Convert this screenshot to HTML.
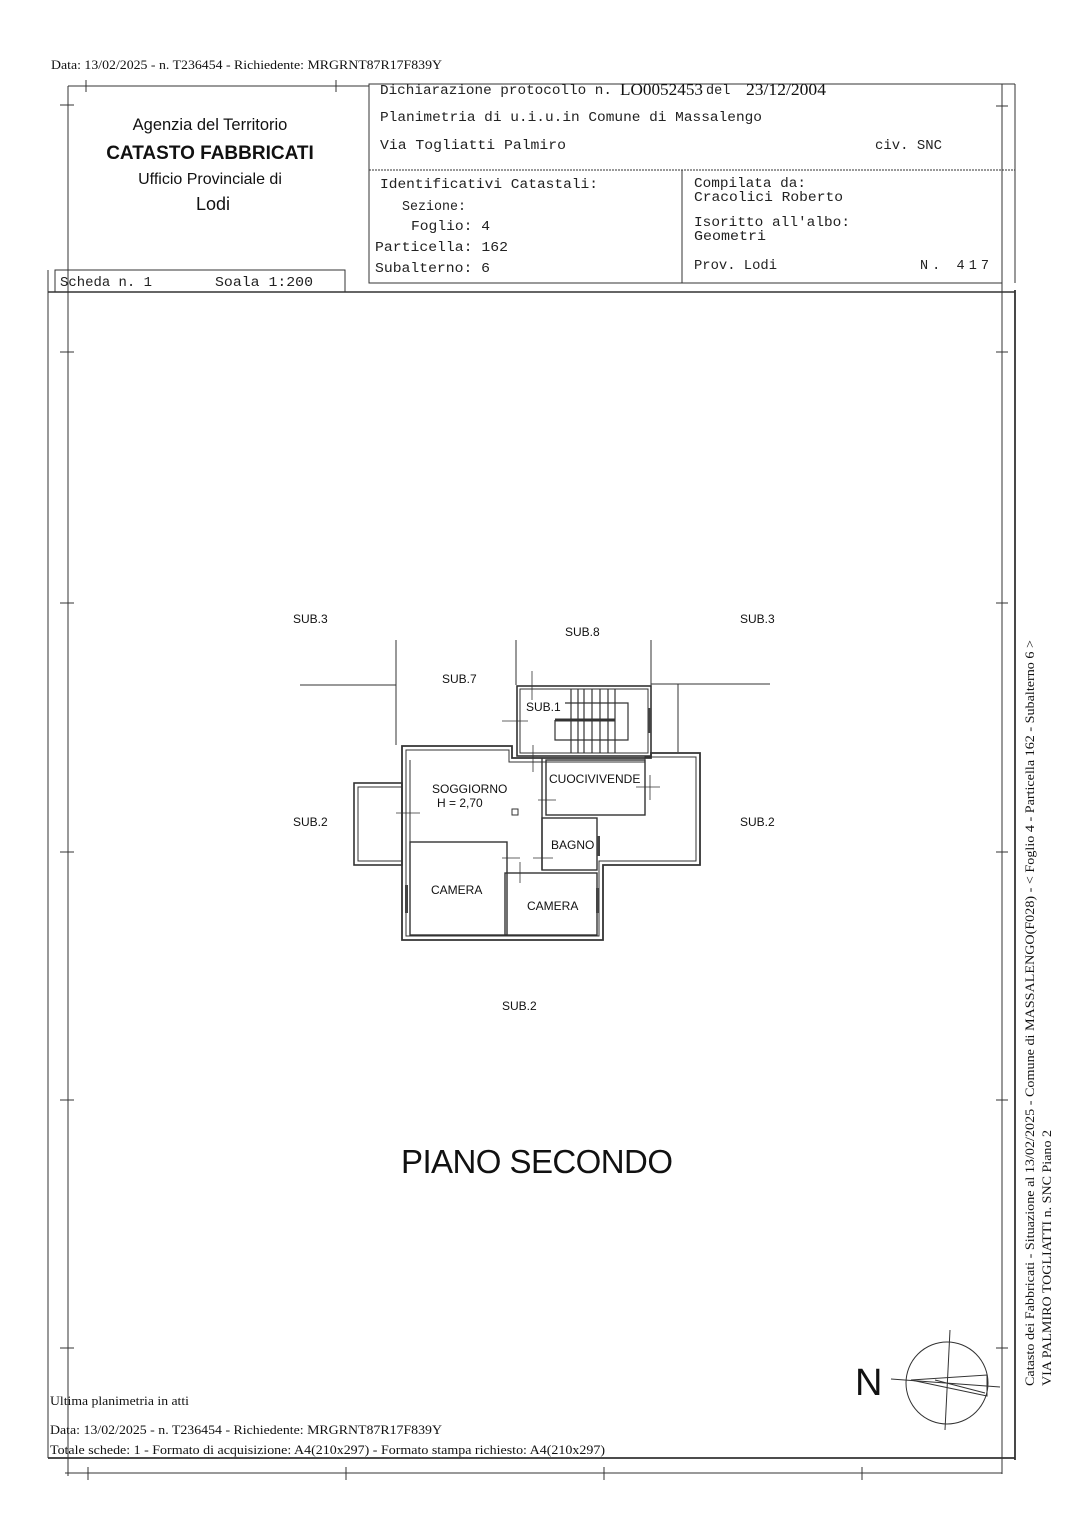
<!DOCTYPE html>
<html><head><meta charset="utf-8"><style>
html,body{margin:0;padding:0;background:#fff;}
svg{display:block}
.m{font-family:"Liberation Mono",monospace;font-size:13.5px;fill:#222}
.s{font-family:"Liberation Sans",sans-serif;fill:#111}
.t{font-family:"Liberation Serif",serif;fill:#111}
</style></head><body>
<svg width="1086" height="1536" viewBox="0 0 1086 1536" xmlns="http://www.w3.org/2000/svg">
<g stroke="#333" fill="none" stroke-width="1">
<line x1="68" y1="86" x2="369" y2="86"/>
<line x1="86" y1="80" x2="86" y2="92"/><line x1="336" y1="80" x2="336" y2="92"/>
<line x1="60" y1="105" x2="74" y2="105"/>
<rect x="369" y="84" width="633" height="199"/>
<line x1="369" y1="170" x2="1015" y2="170" stroke-dasharray="2 1"/>
<line x1="682" y1="170" x2="682" y2="283"/>
<line x1="1002" y1="84" x2="1015" y2="84"/>
<line x1="996" y1="106" x2="1008" y2="106"/>
<line x1="1015" y1="84" x2="1015" y2="283"/>
<rect x="55" y="270" width="290" height="22"/>
<line x1="48" y1="270" x2="48" y2="1458"/>
<line x1="68" y1="86" x2="68" y2="1476"/>
<line x1="48" y1="292" x2="1015" y2="292" stroke-width="1.5"/>
<line x1="1002" y1="283" x2="1002" y2="1474"/>
<line x1="1015" y1="290" x2="1015" y2="1460" stroke-width="1.8"/>
<line x1="48" y1="1458" x2="1015" y2="1458" stroke-width="1.8"/>
<line x1="65" y1="1473" x2="1002" y2="1473"/>
<line x1="88" y1="1467" x2="88" y2="1480"/><line x1="346" y1="1467" x2="346" y2="1480"/><line x1="604" y1="1467" x2="604" y2="1480"/><line x1="862" y1="1467" x2="862" y2="1480"/>
<line x1="60" y1="352" x2="74" y2="352"/><line x1="60" y1="603" x2="74" y2="603"/><line x1="60" y1="852" x2="74" y2="852"/><line x1="60" y1="1100" x2="74" y2="1100"/><line x1="60" y1="1348" x2="74" y2="1348"/>
<line x1="996" y1="352" x2="1008" y2="352"/><line x1="996" y1="603" x2="1008" y2="603"/><line x1="996" y1="852" x2="1008" y2="852"/><line x1="996" y1="1100" x2="1008" y2="1100"/><line x1="996" y1="1348" x2="1008" y2="1348"/>
<line x1="300" y1="685" x2="396" y2="685"/>
<line x1="396" y1="640" x2="396" y2="745"/>
<line x1="516" y1="640" x2="516" y2="685"/>
<line x1="651" y1="640" x2="651" y2="755"/>
<line x1="651" y1="684" x2="770" y2="684"/>
<line x1="678" y1="684" x2="678" y2="752"/>
<rect x="517" y="686" width="134" height="70" stroke-width="1.6"/>
<rect x="520" y="689" width="128" height="64"/>
<g stroke-width="1.2">
<line x1="571" y1="689" x2="571" y2="753"/><line x1="578" y1="689" x2="578" y2="753"/><line x1="584" y1="689" x2="584" y2="753"/><line x1="592" y1="689" x2="592" y2="753"/><line x1="600" y1="689" x2="600" y2="753"/><line x1="608" y1="689" x2="608" y2="753"/><line x1="615" y1="689" x2="615" y2="753"/>
<line x1="555" y1="720" x2="615" y2="720" stroke-width="3"/>
<polyline points="565,703 628,703 628,740 555,740 555,720"/>
</g>
<polygon points="402,746 512,746 512,758 651,758 651,753 700,753 700,865 603,865 603,940 402,940" stroke-width="1.8"/>
<polygon points="406,750 509,750 509,762 645,762 645,757 696,757 696,861 599,861 599,936 406,936"/>
<rect x="354" y="783" width="48" height="82" stroke-width="1.6"/>
<rect x="358" y="787" width="44" height="74"/>
<rect x="546" y="760" width="99" height="55" stroke-width="1.4"/>
<line x1="542" y1="758" x2="542" y2="870" stroke-width="1.4"/>
<polyline points="410,760 410,842 507,842 507,935"/>
<rect x="542" y="818" width="55" height="52" stroke-width="1.4"/>
<rect x="505" y="873" width="92" height="62" stroke-width="1.4"/>
<rect x="410" y="842" width="97" height="93" stroke-width="1.4"/>
<rect x="512" y="809" width="6" height="6"/>
<g stroke-width="0.8">
<line x1="532" y1="671" x2="532" y2="700"/><line x1="502" y1="721" x2="528" y2="721"/>
<line x1="533" y1="745" x2="533" y2="772"/><line x1="538" y1="800" x2="556" y2="800"/>
<line x1="396" y1="813" x2="420" y2="813"/>
<line x1="502" y1="858" x2="520" y2="858"/><line x1="533" y1="858" x2="553" y2="858"/>
<line x1="520" y1="862" x2="520" y2="883"/>
<line x1="636" y1="787" x2="660" y2="787"/><line x1="650" y1="775" x2="650" y2="800"/>
</g>
<g fill="#444" stroke="none">
<rect x="405" y="885" width="3" height="28"/><rect x="596" y="888" width="3" height="25"/><rect x="648" y="708" width="3" height="25"/><rect x="597" y="836" width="3" height="20"/>
</g>
<circle cx="947" cy="1383" r="41"/>
<line x1="950" y1="1330" x2="945" y2="1430"/>
<line x1="891" y1="1379" x2="1000" y2="1387"/>
<polygon points="911,1380 987,1375 987,1396"/>
<line x1="935" y1="1380" x2="985" y2="1393"/>
</g>
<text class="t" x="51" y="69" font-size="13" textLength="391" lengthAdjust="spacingAndGlyphs">Data: 13/02/2025 - n. T236454 - Richiedente: MRGRNT87R17F839Y</text>
<text class="s" x="210" y="130" font-size="16.5" text-anchor="middle">Agenzia del Territorio</text>
<text class="s" x="210" y="159" font-size="19" text-anchor="middle" font-weight="bold">CATASTO FABBRICATI</text>
<text class="s" x="210" y="184" font-size="16" text-anchor="middle">Ufficio Provinciale di</text>
<text class="s" x="213" y="210" font-size="18" text-anchor="middle">Lodi</text>
<text class="m" x="380" y="94" textLength="232" lengthAdjust="spacingAndGlyphs">Dichiarazione protocollo n.</text>
<text class="t" x="620" y="95" font-size="17" textLength="83" lengthAdjust="spacingAndGlyphs">LO0052453</text><text class="m" x="706" y="94">del</text><text class="t" x="746" y="95" font-size="17" textLength="80" lengthAdjust="spacingAndGlyphs">23/12/2004</text>
<text class="m" x="380" y="121" textLength="382" lengthAdjust="spacingAndGlyphs">Planimetria di u.i.u.in Comune di Massalengo</text>
<text class="m" x="380" y="149" textLength="186" lengthAdjust="spacingAndGlyphs">Via Togliatti Palmiro</text>
<text class="m" x="875" y="149" textLength="67" lengthAdjust="spacingAndGlyphs">civ. SNC</text>
<text class="m" x="380" y="188" textLength="218" lengthAdjust="spacingAndGlyphs">Identificativi Catastali:</text>
<text class="m" x="402" y="210" textLength="64" lengthAdjust="spacingAndGlyphs">Sezione:</text>
<text class="m" x="411" y="230" textLength="79" lengthAdjust="spacingAndGlyphs">Foglio: 4</text>
<text class="m" x="375" y="251" textLength="133" lengthAdjust="spacingAndGlyphs">Particella: 162</text>
<text class="m" x="375" y="272" textLength="115" lengthAdjust="spacingAndGlyphs">Subalterno: 6</text>
<text class="m" x="694" y="187" textLength="112" lengthAdjust="spacingAndGlyphs">Compilata da:</text>
<text class="m" x="694" y="201" textLength="149" lengthAdjust="spacingAndGlyphs">Cracolici Roberto</text>
<text class="m" x="694" y="226" textLength="156" lengthAdjust="spacingAndGlyphs">Isoritto all'albo:</text>
<text class="m" x="694" y="240" textLength="72" lengthAdjust="spacingAndGlyphs">Geometri</text>
<text class="m" x="694" y="269" textLength="83" lengthAdjust="spacingAndGlyphs">Prov. Lodi</text>
<text class="m" x="920" y="269" textLength="69" lengthAdjust="spacing">N.   417</text>
<text class="m" x="60" y="286" textLength="92" lengthAdjust="spacingAndGlyphs">Scheda n. 1</text>
<text class="m" x="215" y="286" textLength="98" lengthAdjust="spacingAndGlyphs">Soala 1:200</text>
<g class="s" font-size="12">
<text x="293" y="623">SUB.3</text><text x="740" y="623">SUB.3</text>
<text x="565" y="636">SUB.8</text><text x="442" y="683">SUB.7</text>
<text x="526" y="711">SUB.1</text>
<text x="293" y="826">SUB.2</text><text x="740" y="826">SUB.2</text>
<text x="432" y="793">SOGGIORNO</text><text x="437" y="807">H = 2,70</text>
<text x="549" y="783">CUOCIVIVENDE</text>
<text x="551" y="849">BAGNO</text>
<text x="431" y="894">CAMERA</text><text x="527" y="910">CAMERA</text>
<text x="502" y="1010">SUB.2</text>
</g>
<text class="s" x="401" y="1173" font-size="33" textLength="272">PIANO SECONDO</text>
<text class="s" x="855" y="1395" font-size="38">N</text>
<text class="t" x="50" y="1405" font-size="13" textLength="139" lengthAdjust="spacingAndGlyphs">Ultima planimetria in atti</text>
<text class="t" x="50" y="1434" font-size="13" textLength="392" lengthAdjust="spacingAndGlyphs">Data: 13/02/2025 - n. T236454 - Richiedente: MRGRNT87R17F839Y</text>
<text class="t" x="50" y="1454" font-size="13" textLength="555" lengthAdjust="spacingAndGlyphs">Totale schede: 1 - Formato di acquisizione: A4(210x297)  - Formato stampa richiesto: A4(210x297)</text>
<text class="t" font-size="13" textLength="746" lengthAdjust="spacingAndGlyphs" transform="translate(1034,1386) rotate(-90)">Catasto dei Fabbricati - Situazione al 13/02/2025 - Comune di MASSALENGO(F028) - &lt; Foglio 4 - Particella  162 - Subalterno 6 &gt;</text>
<text class="t" font-size="13" textLength="256" lengthAdjust="spacingAndGlyphs" transform="translate(1051,1386) rotate(-90)">VIA PALMIRO TOGLIATTI n. SNC Piano 2</text>
</svg>
</body></html>
